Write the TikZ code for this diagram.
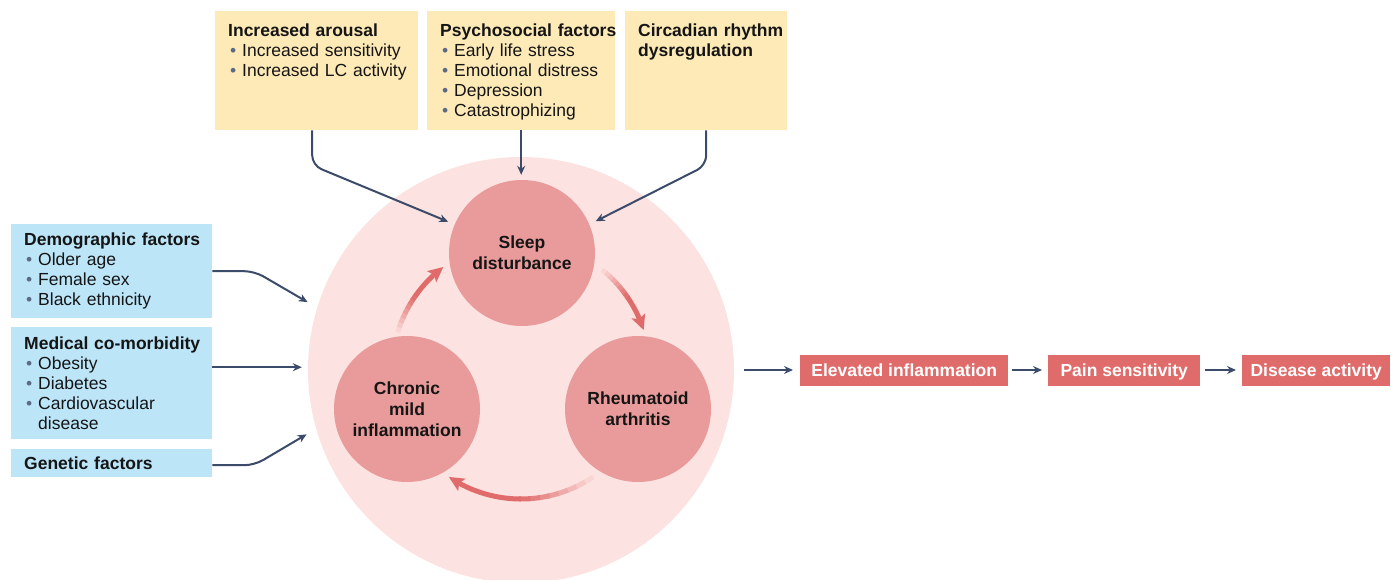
\documentclass[tikz,border=0pt]{standalone}
\usepackage{fontspec}
\setmainfont{Liberation Sans}
\usetikzlibrary{arrows.meta,bending,positioning}

\definecolor{boxyellow}{HTML}{FDEAB7}
\definecolor{boxblue}{HTML}{BCE5F8}
\definecolor{bgpink}{HTML}{FCE2E0}
\definecolor{nodepink}{HTML}{E89B9A}
\definecolor{cycred}{HTML}{DF6B6A}
\definecolor{linkblue}{HTML}{3C4B6A}
\definecolor{dotgray}{HTML}{5C6B84}
\definecolor{inkblack}{HTML}{151515}

\hyphenpenalty=10000
\exhyphenpenalty=10000
\newcommand{\bull}{\makebox[14pt][l]{\hspace{2pt}\textcolor{dotgray}{\textbullet}}}

\begin{document}
\begin{tikzpicture}
    [
        x=1pt,y=-1pt,
        every node/.style={font=\fontsize{17.5}{20}\selectfont,text=inkblack},
        topbox/.style={fill=boxyellow,anchor=north west,align=left,inner xsep=13pt,inner ysep=13pt,text height=12.5pt,text depth=80.5pt},
        sidebox/.style={fill=boxblue,anchor=north west,align=left,inner xsep=13pt,inner ysep=0pt,text width=175pt},
        hub/.style={circle,fill=nodepink,minimum size=146pt,inner sep=0pt,align=center,font=\fontsize{17.5}{21}\selectfont\bfseries},
        outbox/.style={fill=cycred,anchor=west,minimum height=31pt,inner sep=0pt,text height=12.6pt,text depth=0pt,text=white,font=\fontsize{17.5}{20}\selectfont\bfseries},
        link/.style={draw=linkblue,line width=2pt,rounded corners=10pt,-{Stealth[length=9pt,width=8pt]}},
        loopline/.style={line width=5pt},
    ]
    \useasboundingbox (0,0) rectangle (1391,580);
    % The central circle
    \node[circle,fill=bgpink,minimum size=426pt,inner sep=0pt] (bigc) at (521,370) {};
    % The three states
    \node[hub] (sleep) at (522,253) {Sleep\\disturbance};
    \node[hub] (chronic) at (407,409) {Chronic\\mild\\inflammation};
    \node[hub] (ra) at (638,409) {Rheumatoid\\arthritis};
    % The cycle
    \foreach \s/\e in {-51/-18,56/124,197/233}{
        \pgfmathsetmacro{\d}{(\e-\s)/16}
        \foreach \k in {0,...,7}{
            \pgfmathtruncatemacro{\p}{10+12*\k}
            \draw[loopline,draw=cycred!\p!bgpink]
            (bigc.center) ++({\s+\k*\d}:129) arc[start angle={\s+\k*\d},end angle={\s+(\k+1.2)*\d},radius=129];
        }
        \draw[loopline,draw=cycred,-{Stealth[length=15pt,width=14pt,inset=3pt]}]
        (bigc.center) ++({\s+8*\d}:129) arc[start angle={\s+8*\d},end angle=\e,radius=129];
    }
    % The factors on top
    \node[topbox,text width=177pt] (arousal) at (215,11)
    {\textbf{Increased~arousal}\\ \bull Increased~sensitivity\\ \bull Increased~LC~activity};
    \node[topbox,text width=162pt] (psycho) at (427,11)
    {\textbf{Psychosocial~factors}\\ \bull Early~life~stress\\ \bull Emotional~distress\\ \bull Depression\\ \bull Catastrophizing};
    \node[topbox,text width=136pt] (circadian) at (625,11)
    {\textbf{Circadian~rhythm}\\ \textbf{dysregulation}};
    % The factors on the left
    \node[sidebox,minimum height=94pt] (demo) at (11,224)
    {\textbf{Demographic~factors}\\ \bull Older~age\\ \bull Female~sex\\ \bull Black~ethnicity};
    \node[sidebox,minimum height=112pt] (medical) at (11,327)
    {\textbf{\mbox{Medical co-morbidity}}\\ \bull Obesity\\ \bull Diabetes\\ \bull Cardiovascular\\ \hspace*{14pt}disease};
    \node[sidebox,minimum height=28pt] (genetic) at (11,449) {\textbf{Genetic~factors}};
    % The outcomes
    \node[outbox,minimum width=208pt] (elev) at (800,370) {Elevated inflammation};
    \node[outbox,minimum width=152pt] (pain) at (1048,370) {Pain sensitivity};
    \node[outbox,minimum width=148pt] (disease) at (1242,370) {Disease activity};
    % Connectors
    \coordinate (medout) at ([yshift=16pt]medical.east);
    \draw[link,shorten >=7pt] ([xshift=-4.5pt]arousal.south) -- ++(0,35) -- (sleep.157);
    \draw[link,shorten >=5pt] (psycho.south) -- (psycho.south |- sleep.north);
    \draw[link,shorten >=7pt] (circadian.south) -- ++(0,35) -- (sleep.23);
    \draw[link,shorten >=11pt] (demo.east) -- ++(42,0) -- (bigc.163);
    \draw[link,shorten >=6pt] (medout) -- (medout -| bigc.west);
    \draw[link,shorten >=11pt] ([yshift=-2pt]genetic.east) -- ++(42,0) -- (bigc.196);
    \draw[link,shorten <=10pt,shorten >=7pt] (bigc.east) -- (elev.west);
    \draw[link,shorten <=4pt,shorten >=6pt] (elev) -- (pain);
    \draw[link,shorten <=5pt,shorten >=6pt] (pain) -- (disease);
\end{tikzpicture}
\end{document}
